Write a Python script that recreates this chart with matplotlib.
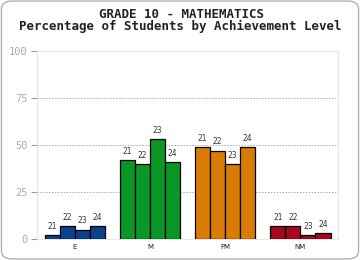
import matplotlib
matplotlib.use("Agg")
import matplotlib.pyplot as plt
import numpy as np
from matplotlib.patches import FancyBboxPatch

# 到達度レベル別の割合（年度 21〜24）
levels = ["E", "M", "PM", "NM"]
years = ["21", "22", "23", "24"]
pct_E = [2, 7, 5, 7]
pct_M = [42, 40, 53, 41]
pct_PM = [49, 47, 40, 49]
pct_NM = [7, 7, 2, 3]
level_colors = ["#0d4290", "#0b9628", "#d97b07", "#a8081f"]
y_ticks = [0, 25, 50, 75, 100]

values = [pct_E, pct_M, pct_PM, pct_NM]

fig = plt.figure(figsize=(3.6, 2.6), dpi=100)

# 外枠（角丸）
frame = FancyBboxPatch((0.004, 0.004), 0.992, 0.992,
                       boxstyle="round,pad=0,rounding_size=0.03",
                       transform=fig.transFigure, facecolor="none",
                       edgecolor="#b0b0b0", linewidth=1.0)
fig.patches.append(frame)

ax = fig.add_axes([0.103, 0.081, 0.836, 0.723])

bar_w = 0.2
x = np.arange(len(levels))
for i, (vals, col) in enumerate(zip(values, level_colors)):
    for j, (v, yr) in enumerate(zip(vals, years)):
        xpos = x[i] - 0.3 + j * bar_w
        ax.bar(xpos, v, width=bar_w, color=col, edgecolor="black",
               linewidth=0.9, zorder=3)
        ax.annotate(yr, (xpos, v), xytext=(0, 3), textcoords="offset points",
                    ha="center", va="bottom", fontsize=5.5, color="#333333")

ax.set_xlim(-0.5, len(levels) - 0.5)
ax.set_ylim(0, 100)
ax.set_yticks(y_ticks)
ax.set_yticklabels([str(t) for t in y_ticks], family="DejaVu Sans Mono",
                   fontsize=7.5, color="#aaaaaa")
ax.set_xticks(x)
ax.set_xticklabels(levels, fontsize=5, color="#222222")
ax.tick_params(axis="x", length=0, pad=4)
ax.tick_params(axis="y", length=4, color="#999999", width=0.8, pad=3)

for t in [25, 50, 75]:
    ax.axhline(t, color="#aaaaaa", linestyle=(0, (1.5, 1.5)), linewidth=0.7, zorder=1)

for s in ax.spines.values():
    s.set_color("#e6e6e6")
    s.set_linewidth(0.8)

fig.text(0.503, 0.945, "GRADE 10 - MATHEMATICS", ha="center", va="center",
         family="DejaVu Sans Mono", fontweight="bold", fontsize=9, color="#222222")
fig.text(0.5, 0.9, "Percentage of Students by Achievement Level", ha="center",
         va="center", family="DejaVu Sans Mono", fontweight="bold", fontsize=9,
         color="#222222")

fig.savefig("out.png", dpi=100)
